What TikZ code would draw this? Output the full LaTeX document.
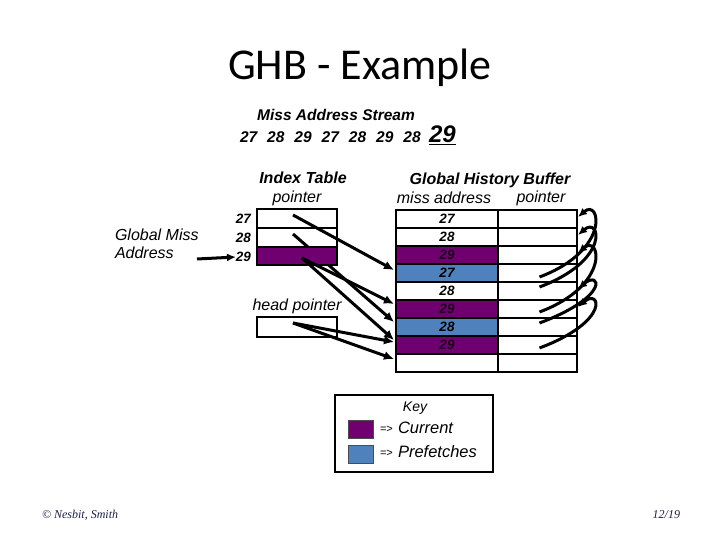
\documentclass[tikz,border=0pt]{standalone}
\usepackage{fontspec}
\setmainfont{Liberation Sans}
\newfontfamily\titlefont{Carlito}
\newfontfamily\footfont{Liberation Serif}
\usetikzlibrary{arrows.meta,calc}
\definecolor{ghbpurple}{RGB}{112,0,112}
\definecolor{ghbblue}{RGB}{79,129,189}
\definecolor{darkpurp}{RGB}{30,0,30}
\definecolor{footcol}{RGB}{30,30,70}
\tikzset{
  txt/.style={inner sep=0pt, outer sep=0pt},
  cell/.style={draw=black, line width=2pt, inner sep=0pt, outer sep=0pt},
  icell/.style={cell, minimum width=80pt, minimum height=18.7pt},
  gcell/.style={cell, minimum width=102pt, minimum height=18pt},
  pcell/.style={cell, minimum width=79pt, minimum height=18pt},
  ptr/.style={line width=3pt, -{Latex[length=10pt,width=9pt]}},
  cptr/.style={line width=3pt, -{Latex[length=9pt,width=8pt]}},
  hdr/.style={txt, font=\fontsize{16}{18}\selectfont\bfseries\itshape},
  sub/.style={txt, font=\fontsize{16}{18}\selectfont\itshape},
  num/.style={txt, font=\fontsize{13.5}{15}\selectfont\bfseries\itshape},
}
\begin{document}
\begin{tikzpicture}[x=1pt,y=-1pt]
\useasboundingbox (0,0) rectangle (720,540);

% title
\node[txt, font=\titlefont\fontsize{44}{50}\selectfont] (title) at (360,68) {GHB - Example};

% stream
\node[hdr, font=\fontsize{15.5}{18}\selectfont\bfseries\itshape] (streamlbl) at (336,115) {Miss Address Stream};
\node[txt, anchor=west, font=\fontsize{15.5}{18}\selectfont\bfseries\itshape] (stream) at (240,137)
  {27\hspace{10pt}28\hspace{10pt}29\hspace{10pt}27\hspace{10pt}28\hspace{10pt}29\hspace{10pt}28};
\node[txt, anchor=west, font=\fontsize{24}{26}\selectfont\bfseries\itshape] (cur) at (429,135) {\underline{29}};

% headers
\node[hdr] (ithdr) at (303,178) {Index Table};
\node[sub] (itptr) at (297,198) {pointer};
\node[hdr] (ghbhdr) at (490,180) {Global History Buffer};
\node[sub] (ghbmiss) at (444,198) {miss address};
\node[sub] (ghbptr) at (541,198) {pointer};

% global miss address
\node[sub, anchor=west] (gm1) at (115,235) {Global Miss};
\node[sub, anchor=west] (gm2) at (115,253) {Address};

% index table numbers
\node[num, anchor=east] (n27) at (251,219) {27};
\node[num, anchor=east] (n28) at (251,238) {28};
\node[num, anchor=east] (n29) at (251,257) {29};
\coordinate (gmarr) at (197,259);
\draw[line width=3pt, -{Latex[length=9pt,width=8pt]}] (gmarr) -- (n29.west);

% GHB cells
\foreach \i/\f in {1/white,2/white,3/ghbpurple,4/ghbblue,5/white,6/ghbpurple,7/ghbblue,8/ghbpurple,9/white}{
  \node[gcell, fill=\f] (g\i) at (447,{201+18*\i}) {};
  \node[pcell] (p\i) at (537.5,{201+18*\i}) {};
}
\node[num] at (g1) {27};
\node[num] at (g2) {28};
\node[num, text=darkpurp] at (g3) {29};
\node[num] at (g4) {27};
\node[num] at (g5) {28};
\node[num, text=darkpurp] at (g6) {29};
\node[num] at (g7) {28};
\node[num, text=darkpurp] at (g8) {29};

% index table rows 1,2 and arrows from them
\node[icell] (it1) at (297,218.5) {};
\node[icell] (it2) at (297,237.2) {};
\coordinate (s27) at (293,215);
\coordinate (s28) at (293,234);
\draw[ptr] (s27) -- ($(g4.west)+(-2,-3)$);
\draw[ptr] (s28) -- ($(g7.west)+(-2,-5)$);
\node[icell, fill=ghbpurple] (it3) at (297,256) {};

% head pointer
\node[sub] (hplbl) at (297,306) {head pointer};
\node[icell, minimum height=20pt] (hp) at (297,327) {};

\coordinate (s29) at (302,258);
\coordinate (shp) at (293,323);
\draw[ptr] (s29) -- ($(g6.west)+(-2,-5)$);
\draw[ptr] (s29) -- ($(g8.west)+(-2,-5)$);
\draw[ptr] (shp) -- ($(g8.west)+(-2,-3)$);
\draw[ptr] (shp) -- ($(g9.west)+(-2,-4)$);

% GHB pointer links
\foreach \s/\o/\e in {4/4/1,5/-4/2,6/3/3,7/-4/5,8/3/6}{
  \draw[cptr] ($(p\s.center)+(2,\o)$) .. controls ($(p\s.center)+(74,{\o-27})$) and ($(p\e.east)+(23,-21)$) .. ($(p\e.east)+(1,-2)$);
}

% key
\node[draw=black, line width=1.8pt, minimum width=158pt, minimum height=77pt, inner sep=0pt] (key) at (414,433.5) {};
\node[txt, font=\fontsize{14}{16}\selectfont\itshape] (keylbl) at (415,408) {Key};
\node[draw=black!70, line width=0.6pt, fill=ghbpurple, minimum width=25pt, minimum height=18pt, inner sep=0pt] (kp) at (360.5,429) {};
\node[draw=black!70, line width=0.6pt, fill=ghbblue, minimum width=25pt, minimum height=18pt, inner sep=0pt] (kb) at (360.5,454) {};
\node[txt, anchor=west, font=\fontsize{11}{13}\selectfont] (ka1) at (380,429) {=>};
\node[txt, anchor=west, font=\fontsize{16.5}{18}\selectfont\itshape] (kc) at (398,428) {Current};
\node[txt, anchor=west, font=\fontsize{11}{13}\selectfont] (ka2) at (380,453) {=>};
\node[txt, anchor=west, font=\fontsize{16.5}{18}\selectfont\itshape] (kf) at (398,452) {Prefetches};

% footer
\node[txt, anchor=west, text=footcol, font=\footfont\fontsize{12}{14}\selectfont\itshape] (foot1) at (42,515) {© Nesbit, Smith};
\node[txt, anchor=east, text=footcol, font=\footfont\fontsize{12}{14}\selectfont\itshape] (foot2) at (680,515) {12/19};
\end{tikzpicture}
\end{document}
